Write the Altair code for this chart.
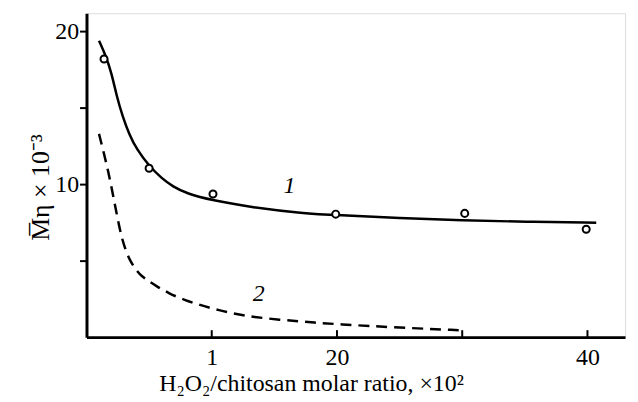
import altair as alt
import pandas as pd

# Experimental points (curve 1)
pts_x = [1.4, 5.0, 10.1, 19.9, 30.2, 39.9]
pts_y = [18.2, 11.05, 9.37, 8.05, 8.1, 7.06]

# Curve 1 (solid)
c1_x = [1.0, 1.5, 2.0, 2.4, 2.9, 3.4, 4.0, 5.0, 6.0, 6.9, 8.0, 10.0, 13.2, 17.3, 20.0, 25.0, 30.0, 35.0, 40.7]
c1_y = [19.4, 18.5, 17.3, 15.8, 14.4, 13.3, 12.3, 11.2, 10.4, 9.85, 9.4, 8.96, 8.49, 8.1, 7.98, 7.8, 7.63, 7.55, 7.49]

# Curve 2 (dashed)
c2_x = [1.0, 1.4, 1.72, 2.0, 2.25, 2.5, 2.78, 3.1, 3.44, 3.9, 4.37, 5.0, 5.56, 6.5, 7.94, 10.6, 13.2, 17.2, 20.1, 25.0, 29.9]
c2_y = [13.3, 12.0, 10.9, 9.8, 8.75, 7.7, 6.6, 5.75, 5.06, 4.45, 4.0, 3.65, 3.35, 2.9, 2.37, 1.73, 1.3, 1.01, 0.84, 0.62, 0.45]

# Curve labels
lab_text = ["1", "2"]
lab_x = [16.2, 13.75]
lab_y = [9.9, 2.8]

x_ticks = [10, 20, 30, 40]
y_ticks = [5, 10, 15, 20]

pts = pd.DataFrame({"x": pts_x, "y": pts_y})
c1 = pd.DataFrame({"x": c1_x, "y": c1_y})
c2 = pd.DataFrame({"x": c2_x, "y": c2_y})
labs = pd.DataFrame({"x": lab_x, "y": lab_y, "t": lab_text})
xt = pd.DataFrame({"x": x_ticks})

FONT = "Liberation Serif"

xscale = alt.Scale(domain=[0, 43], nice=False, zero=False)
yscale = alt.Scale(domain=[0, 21.2], nice=False, zero=False)

xaxis = alt.Axis(
    values=x_ticks,
    labelExpr="datum.value == 10 ? '1' : (datum.value == 30 ? '' : datum.label)",
    ticks=False,
    labelPadding=9,
    labelFont=FONT, labelFontSize=24, labelColor="black",
    title="H₂O₂/chitosan molar ratio, ×10²",
    titleFont=FONT, titleFontSize=24, titleFontWeight="normal", titleColor="black",
    titlePadding=2,
    titleX=226,
    domainColor="black", domainWidth=3,
    grid=False,
)
yaxis = alt.Axis(
    values=y_ticks,
    labelExpr="(datum.value == 10 || datum.value == 20) ? datum.label : ''",
    tickSize=7, tickWidth=2, tickColor="black",
    labelPadding=1,
    labelFont=FONT, labelFontSize=24, labelColor="black",
    title="M̅η × 10⁻³",
    titleFont=FONT, titleFontSize=26, titleFontWeight="normal", titleColor="black",
    titlePadding=1,
    titleY=175,
    domainColor="black", domainWidth=3,
    grid=False,
)

base_x = alt.X("x:Q", scale=xscale, axis=xaxis)
base_y = alt.Y("y:Q", scale=yscale, axis=yaxis)

line1 = alt.Chart(c1).mark_line(color="black", strokeWidth=2.5, interpolate="basis").encode(
    x=base_x, y=base_y
)
line2 = alt.Chart(c2).mark_line(color="black", strokeWidth=2.5, strokeDash=[11, 7],
                                interpolate="basis").encode(
    x=alt.X("x:Q", scale=xscale), y=alt.Y("y:Q", scale=yscale)
)
points = alt.Chart(pts).mark_point(shape="circle", size=50, filled=False, fill="white",
                                   fillOpacity=1, color="black", strokeWidth=2, opacity=1).encode(
    x=alt.X("x:Q", scale=xscale), y=alt.Y("y:Q", scale=yscale)
)
labels = alt.Chart(labs).mark_text(font=FONT, fontSize=24, fontStyle="italic", color="black").encode(
    x=alt.X("x:Q", scale=xscale), y=alt.Y("y:Q", scale=yscale), text="t:N"
)
xticks = alt.Chart(xt).mark_rule(color="black", strokeWidth=2).encode(
    x=alt.X("x:Q", scale=xscale),
    y=alt.value(326),
    y2=alt.value(319),
)

chart = alt.layer(line1, line2, points, labels, xticks).properties(
    width=542, height=326,
    autosize=alt.AutoSizeParams(type="none"),
    padding={"left": 79, "top": 4, "right": 5, "bottom": 60},
).configure_view(stroke=None).configure(background="white")

chart.save("out.html", embed_options={"renderer": "svg", "actions": False})
